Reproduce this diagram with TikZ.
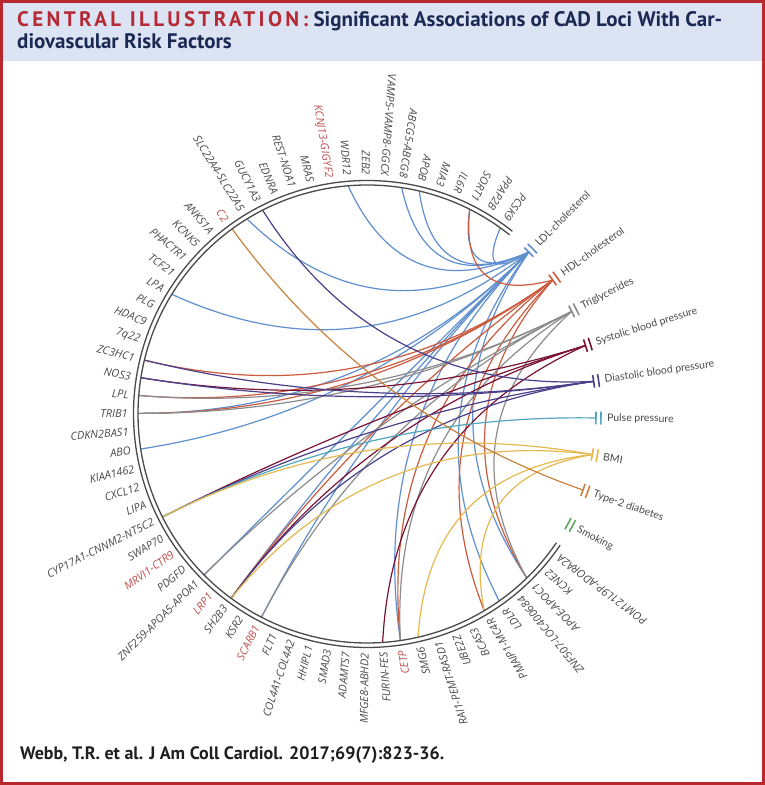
\documentclass[tikz,border=0pt]{standalone}
\usepackage{fontspec}
\setmainfont{Lato}
\newfontfamily\labfont{Open Sans}
\newfontfamily\rffont{Lato}
\newfontfamily\titlefont{PT Sans}
\usetikzlibrary{calc}
\definecolor{ldl}{HTML}{5F8FCF}
\definecolor{hdl}{HTML}{CC5A3E}
\definecolor{tg}{HTML}{8C8C8C}
\definecolor{sbp}{HTML}{7A1236}
\definecolor{dbp}{HTML}{4A3F8A}
\definecolor{pp}{HTML}{4FA8BD}
\definecolor{bmi}{HTML}{E6B94F}
\definecolor{tdm}{HTML}{C9823E}
\definecolor{smk}{HTML}{5AA85A}
\definecolor{rimc}{HTML}{4A4A4A}
\definecolor{labc}{HTML}{4A4A4A}
\definecolor{labred}{HTML}{C0504D}
\definecolor{hdrbg}{HTML}{DCE3F3}
\definecolor{framec}{HTML}{B8282E}
\definecolor{titlered}{HTML}{B52A35}
\definecolor{navy}{HTML}{1B2A55}
\tikzset{
  rimline/.style={draw=rimc, line width=1.3pt},
  chordline/.style={line width=1.2pt},
  tick/.style={line width=1.6pt},
  locuslabel/.style={anchor=east, inner sep=0pt, font=\labfont\itshape\fontsize{11}{12}\selectfont},
  rflabel/.style={anchor=west, inner sep=0pt, text=labc, font=\rffont\fontsize{10.5}{12}\selectfont},
  titlestyle/.style={anchor=base west, inner sep=0pt, text=navy, font=\titlefont\bfseries\fontsize{21}{24}\selectfont},
}
\newcommand\chord[3]{%
 \pgfmathsetmacro\chA{\csname ang#1\endcsname}%
 \pgfmathsetmacro\chB{\csname ang#2\endcsname}%
 \pgfmathsetmacro\chD{abs(\chA-\chB)}%
 \pgfmathsetmacro\chD{\chD>180 ? 360-\chD : \chD}%
 \pgfmathsetmacro\chM{atan2(sin(\chA)+sin(\chB),cos(\chA)+cos(\chB))}%
 \pgfmathsetmacro\chR{229*max(0,0.8-0.00638*\chD)}%
 \coordinate (q) at (\chM:\chR);%
 \draw[#3, chordline] (#1) .. controls ($(#1)!0.6667!(q)$) and ($(#2)!0.6667!(q)$) .. (#2);%
}
\begin{document}
\begin{tikzpicture}[x=1pt,y=1pt]
\useasboundingbox (0,0) rectangle (765,785);
\fill[white] (0,0) rectangle (765,785);
\fill[hdrbg] (0,724) rectangle (765,785);
\node[titlestyle] (title1) at (17,758)
 {\textcolor{titlered}{\addfontfeatures{LetterSpace=16}CENTRAL ILLUSTRATION:} Significant Associations of CAD Loci With Car-};
\node[titlestyle] (title2) at (17,736)
 {diovascular Risk Factors};
\node[anchor=base west, inner sep=0pt, text=black!88, font=\titlefont\bfseries\fontsize{18}{20}\selectfont] (foot) at (20,25)
 {Webb, T.R. et al. J Am Coll Cardiol. 2017;69(7):823-36.};
\begin{scope}[shift={(367,371)}]
% loci
\foreach \i/\lab/\c in {1/PCSK9/labc,2/PPAP2B/labc,3/SORT1/labc,4/IL6R/labc,5/MIA3/labc,6/APOB/labc,7/ABCG5-ABCG8/labc,8/VAMP5-VAMP8-GGCX/labc,9/ZEB2/labc,10/WDR12/labc,11/KCNJ13-GIGYF2/labred,12/MRAS/labc,13/REST-NOA1/labc,14/EDNRA/labc,15/GUCY1A3/labc,16/SLC22A4-SLC22A5/labc,17/C2/labred,18/ANKS1A/labc,19/KCNK5/labc,20/PHACTR1/labc,21/TCF21/labc,22/LPA/labc,23/PLG/labc,24/HDAC9/labc,25/7q22/labc,26/ZC3HC1/labc,27/NOS3/labc,28/LPL/labc,29/TRIB1/labc,30/CDKN2BAS1/labc,31/ABO/labc,32/KIAA1462/labc,33/CXCL12/labc,34/LIPA/labc,35/CYP17A1-CNNM2-NT5C2/labc,36/SWAP70/labc,37/MRVI1-CTR9/labred,38/PDGFD/labc,39/ZNF259-APOA5-APOA1/labc,40/LRP1/labred,41/SH2B3/labc,42/KSR2/labc,43/SCARB1/labred,44/FLT1/labc,45/COL4A1-COL4A2/labc,46/HHIPL1/labc,47/SMAD3/labc,48/ADAMTS7/labc,49/MFGE8-ABHD2/labc,50/FURIN-FES/labc,51/CETP/labred,52/SMG6/labc,53/RAI1-PEMT-RASD1/labc,54/UBE2Z/labc,55/BCAS3/labc,56/PMAIP1-MC4R/labc,57/LDLR/labc,58/ZNF507-LOC400684/labc,59/APOE-APOC1/labc,60/KCNE2/labc,61/POM121L9P-ADORA2A/labc}{
  \pgfmathsetmacro\a{54.4+(\i-1)*4.48}
  \coordinate (L\i) at (\a:229);
  \expandafter\xdef\csname angL\i\endcsname{\a}
  \node[locuslabel, text=\c, rotate=\a+180] (N\i) at (\a:239) {\lab};
}
% risk factors
\foreach \n/\a/\c/\txt in {LDL/45/ldl/LDL-cholesterol,HDL/35.8/hdl/HDL-cholesterol,TG/26.6/tg/Triglycerides,SBP/17.4/sbp/Systolic blood pressure,DBP/8.2/dbp/Diastolic blood pressure,PP/-1/pp/Pulse pressure,BMI/-10.2/bmi/BMI,TDM/-19.4/tdm/Type-2 diabetes,SMK/-28.6/smk/Smoking}{
  \coordinate (\n) at (\a:229);
  \expandafter\xdef\csname ang\n\endcsname{\a}
  \draw[\c, tick] (\a-1.6:229) arc[start angle=\a-1.6, end angle=\a+1.6, radius=229];
  \draw[\c, tick] (\a-1.6:234) arc[start angle=\a-1.6, end angle=\a+1.6, radius=234];
  \node[rflabel, rotate=\a] (T\n) at (\a:240) {\txt};
}
% chords
\foreach \l in {1,3,6,7,10,16,22,29,31,39,41,43,51,57,59}{\chord{L\l}{LDL}{ldl}}
\foreach \l in {3,26,28,29,41,51,56,59}{\chord{L\l}{HDL}{hdl}}
\foreach \l in {28,29,39,43,51,59}{\chord{L\l}{TG}{tg}}
\foreach \l in {27,35,41,50}{\chord{L\l}{SBP}{sbp}}
\foreach \l in {15,26,27,35,41}{\chord{L\l}{DBP}{dbp}}
\foreach \l in {35}{\chord{L\l}{PP}{pp}}
\foreach \l in {35,41,52,56}{\chord{L\l}{BMI}{bmi}}
\foreach \l in {17}{\chord{L\l}{TDM}{tdm}}
% rim
\draw[rimline] (51.5:229) arc[start angle=51.5, end angle=325.8, radius=229];
\draw[rimline] (51.5:233.5) arc[start angle=51.5, end angle=325.8, radius=233.5];
\end{scope}
\draw[framec, line width=3pt] (1.5,1.5) rectangle (763.5,783.5);
\end{tikzpicture}
\end{document}
